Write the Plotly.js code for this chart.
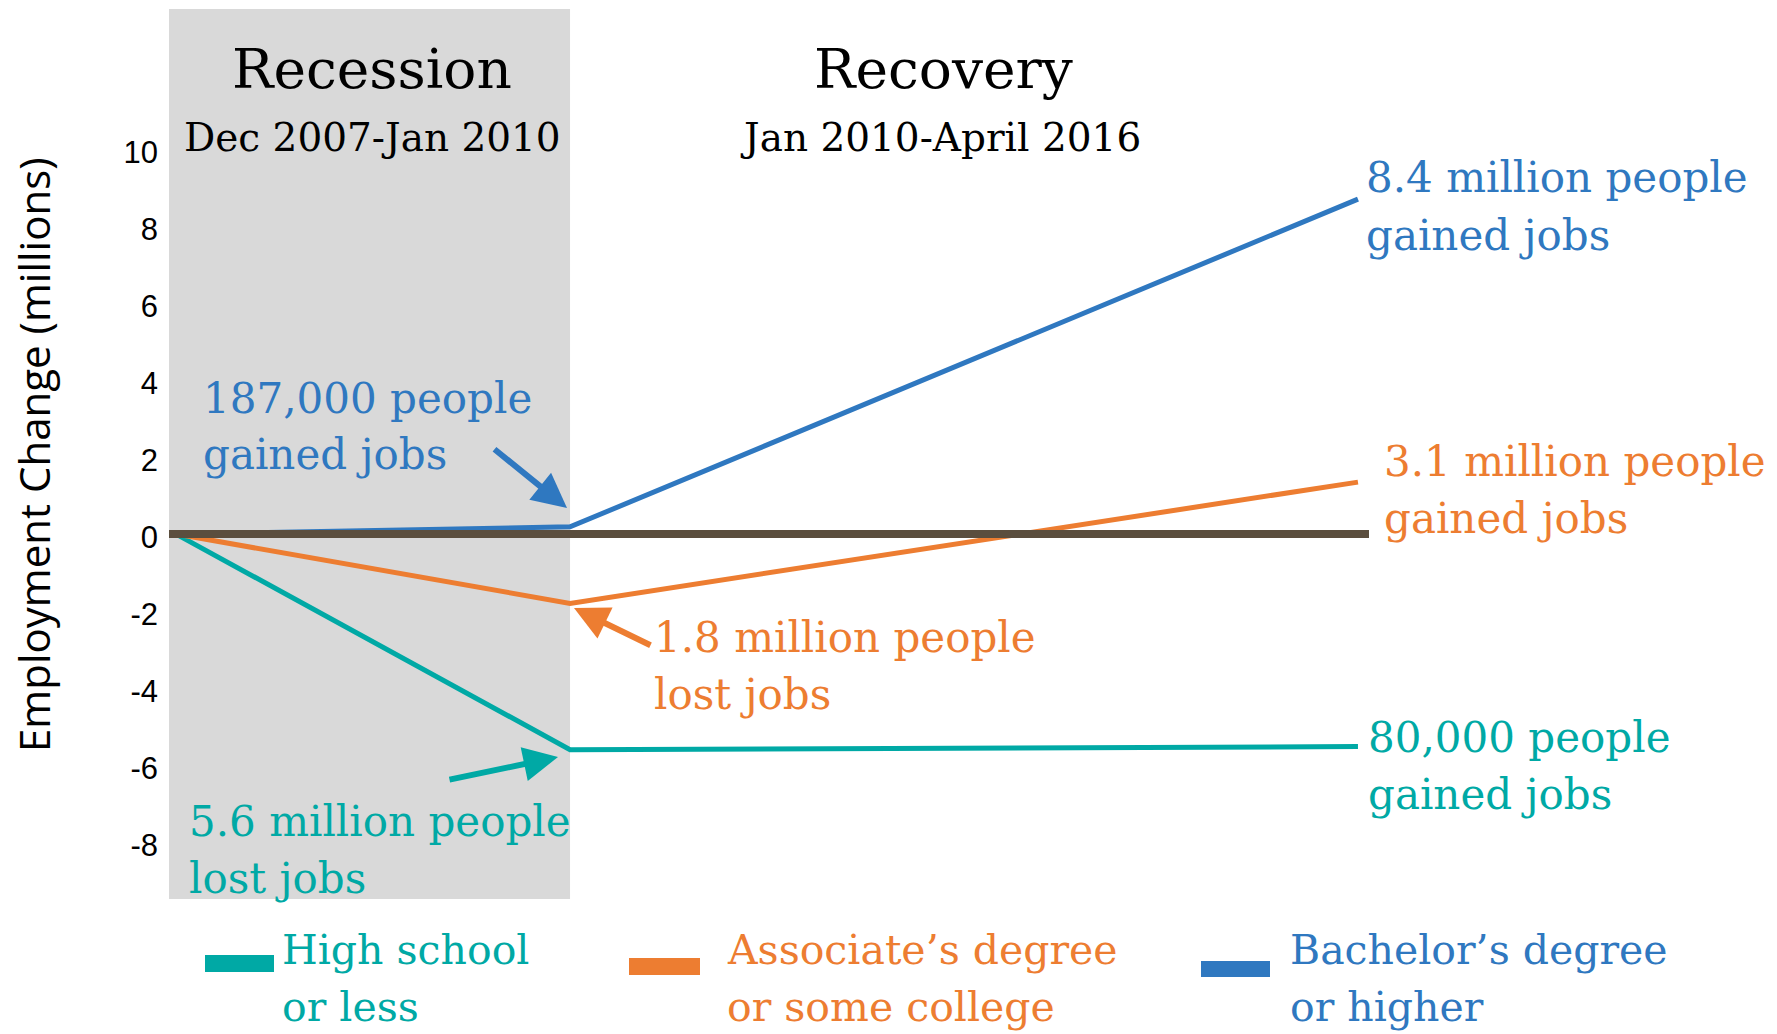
<!DOCTYPE html>
<html>
<head>
<meta charset="utf-8">
<script src="https://cdn.plot.ly/plotly-3.0.1.min.js"></script>
<style>
  html, body { margin: 0; padding: 0; background: #ffffff; }
  #chart { width: 1777px; height: 1034px; }
</style>
</head>
<body>
<div id="chart"></div>
<script>
// ---------------- data ----------------
const periods = ["Dec 2007", "Jan 2010", "April 2016"];
const periodX = [0, 1, 3];
const highSchool = [0, -5.6, -5.52];
const associate = [0, -1.8, 1.35];
const bachelor = [0, 0.187, 8.7];
const seriesNames = ["High school|or less", "Associate\u2019s degree|or some college", "Bachelor\u2019s degree|or higher"];
const seriesColors = ["#00A9A5", "#ED7D31", "#2F78C0"];
const yTickVals = [-8, -6, -4, -2, 0, 2, 4, 6, 8, 10];
const yTickText = ["-8", "-6", "-4", "-2", "0", "2", "4", "6", "8", "10"];
const phaseTitles = ["Recession", "Recovery"];
const phaseRanges = ["Dec 2007-Jan 2010", "Jan 2010-April 2016"];
const recessionNotes = ["5.6 million people|lost jobs", "1.8 million people|lost jobs", "187,000 people|gained jobs"];
const recoveryNotes = ["80,000 people|gained jobs", "3.1 million people|gained jobs", "8.4 million people|gained jobs"];
const yTitle = "Employment Change (millions)";

// ---------------- layout geometry ----------------
const W = 1777, H = 1034;
const PL = 169, PR = 1369, PT = 9, PB = 899;
const xRange = [-0.018, 3.028];
const yRange = [-9.48, 13.64];
const px = v => (v - PL) / (PR - PL);
const py = v => (PB - v) / (PB - PT);

const serif = "DejaVu Serif";
const labelSize = 42;
const lineGap = 57;

const traces = [highSchool, associate, bachelor].map((ys, i) => ({
  type: "scatter", mode: "lines",
  x: periodX, y: ys,
  name: seriesNames[i].replace("|", " "),
  line: { color: seriesColors[i], width: 5 },
  hoverinfo: "skip", showlegend: false
}));

const annotations = [];
function textAnn(str, xp, yp, color, size, anchor) {
  annotations.push({
    xref: "paper", yref: "paper", x: px(xp), y: py(yp),
    text: str, showarrow: false, xanchor: anchor || "left", yanchor: "middle",
    borderpad: 0,
    font: { family: serif, size: size, color: color }
  });
}
function twoLine(str, xp, yp, color, size) {
  const parts = str.split("|");
  textAnn(parts[0], xp, yp, color, size);
  textAnn(parts[1], xp, yp + lineGap, color, size);
}
function arrow(tipX, tipY, tailX, tailY, color) {
  annotations.push({
    xref: "paper", yref: "paper", x: px(tipX), y: py(tipY),
    ax: tailX - tipX, ay: tailY - tipY, axref: "pixel", ayref: "pixel",
    text: "", showarrow: true, arrowhead: 2, arrowsize: 1.15, arrowwidth: 6,
    arrowcolor: color, standoff: 0, startstandoff: 0
  });
}

// phase headings
textAnn(phaseTitles[0], 372, 69, "#000000", 55, "center");
textAnn(phaseRanges[0], 372, 137, "#000000", 39, "center");
textAnn(phaseTitles[1], 943, 69, "#000000", 55, "center");
textAnn(phaseRanges[1], 940, 137, "#000000", 39, "center");

// notes
twoLine(recessionNotes[2], 202, 398, seriesColors[2], labelSize);
twoLine(recessionNotes[1], 653, 637, seriesColors[1], labelSize);
twoLine(recessionNotes[0], 188, 821, seriesColors[0], labelSize);
twoLine(recoveryNotes[2], 1365, 178, seriesColors[2], labelSize);
twoLine(recoveryNotes[1], 1383, 461, seriesColors[1], labelSize);
twoLine(recoveryNotes[0], 1367, 737, seriesColors[0], labelSize);

// arrows
arrow(567, 508, 493, 448, seriesColors[2]);
arrow(574, 608, 652, 646, seriesColors[1]);
arrow(558, 757, 448, 780, seriesColors[0]);

// legend text
const legendX = [281, 726, 1289];
seriesNames.forEach((n, i) => twoLine(n, legendX[i], 950, seriesColors[i], 41));

// y title
annotations.push({
  xref: "paper", yref: "paper", x: px(34), y: py(455), textangle: -90,
  text: yTitle, showarrow: false, xanchor: "center", yanchor: "middle",
  font: { family: "Open Sans", size: 42, color: "#000000" }
});

const swatches = [[205, 955, 274, 972], [629, 958, 700, 975], [1201, 961, 1270, 977]];
const shapes = [
  { type: "rect", xref: "x", yref: "paper", x0: xRange[0], x1: periodX[1], y0: 0, y1: 1,
    fillcolor: "#D9D9D9", line: { width: 0 }, layer: "below" },
  { type: "line", xref: "paper", yref: "y", x0: 0, x1: 1, y0: 0, y1: 0,
    line: { color: "#5B4E3E", width: 8 }, layer: "above" }
];
swatches.forEach((s, i) => shapes.push({
  type: "rect", xref: "paper", yref: "paper",
  x0: px(s[0]), x1: px(s[2]), y0: py(s[3]), y1: py(s[1]),
  fillcolor: seriesColors[i], line: { width: 0 }, layer: "above"
}));

const layout = {
  width: W, height: H,
  margin: { l: PL, r: W - PR, t: PT, b: H - PB, pad: 0 },
  paper_bgcolor: "#ffffff", plot_bgcolor: "rgba(0,0,0,0)",
  showlegend: false,
  xaxis: { range: xRange, visible: false, fixedrange: true },
  yaxis: {
    range: yRange, tickvals: yTickVals, ticktext: yTickText, ticks: "",
    showgrid: false, zeroline: false, showline: false, fixedrange: true,
    tickfont: { family: "Liberation Sans", size: 31, color: "#000000" },
    ticklabelstandoff: 10, ticklabelshift: 3
  },
  shapes: shapes,
  annotations: annotations
};

Plotly.newPlot("chart", traces, layout, { staticPlot: true, displayModeBar: false });
</script>
</body>
</html>
